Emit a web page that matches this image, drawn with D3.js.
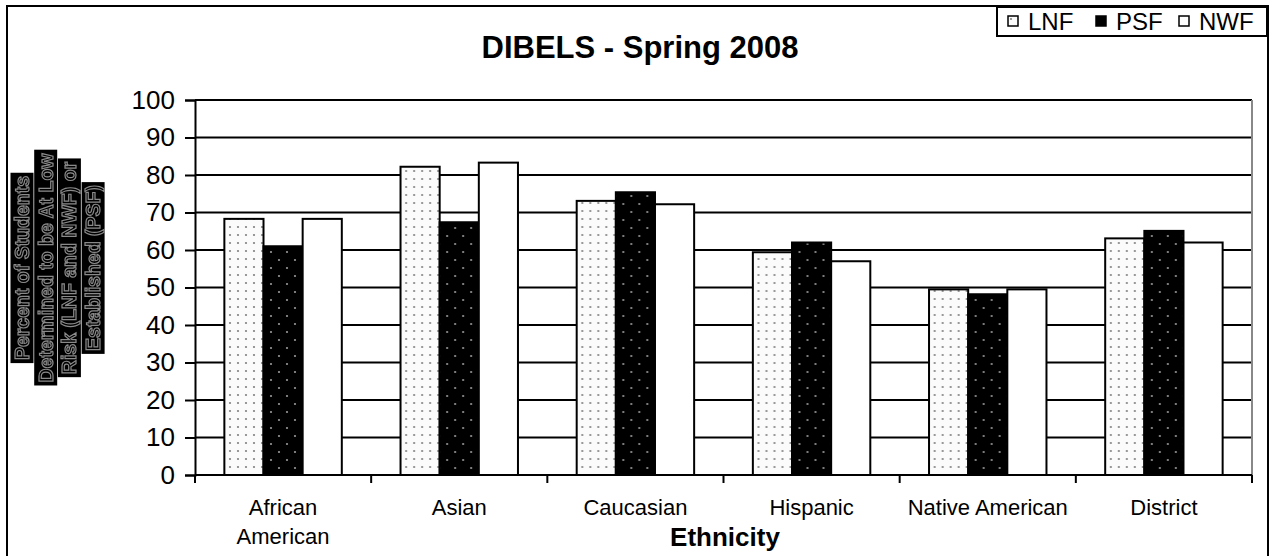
<!DOCTYPE html>
<meta charset="utf-8">
<head>
  <title>DIBELS - Spring 2008</title>
  <script src="https://d3js.org/d3.v7.min.js"></script>
  <style>
    body { margin: 0; background: #fff; }
    text { font-family: "Liberation Sans", Arial, sans-serif; }
  </style>
</head>
<body>
  <div id="chart"></div>
  <script>
    // data
    var categories = ["African American", "Asian", "Caucasian", "Hispanic", "Native American", "District"];
    var series = ["LNF", "PSF", "NWF"];
    var lnf = [68.3, 82.2, 73.1, 59.4, 49.5, 63.1];
    var psf = [61, 67.4, 75.4, 62, 48.2, 65.1];
    var nwf = [68.3, 83.3, 72.2, 57, 49.5, 62];
    var yTicks = [0, 10, 20, 30, 40, 50, 60, 70, 80, 90, 100];
    var yLabelLines = ["Percent of Students", "Determined to be At Low", "Risk (LNF and NWF) or", "Established (PSF)"];

    var values = { LNF: lnf, PSF: psf, NWF: nwf };
    var data = categories.map(function(c, i) {
      return { cat: c, vals: series.map(function(s) { return { key: s, value: values[s][i] }; }) };
    });

    var W = 1272, H = 556;
    var plot = { left: 195, right: 1252, top: 100, bottom: 475 };

    var svg = d3.select("#chart").append("svg")
        .attr("width", W)
        .attr("height", H);

    var defs = svg.append("defs");
    var pL = defs.append("pattern").attr("id", "pat-lnf")
        .attr("patternUnits", "userSpaceOnUse").attr("width", 8).attr("height", 8);
    pL.append("rect").attr("width", 8).attr("height", 8).attr("fill", "#fbfbfb");
    pL.append("circle").attr("cx", 3).attr("cy", 3).attr("r", 1.1).attr("fill", "#808080");

    var pP = defs.append("pattern").attr("id", "pat-psf")
        .attr("patternUnits", "userSpaceOnUse").attr("width", 16).attr("height", 16);
    pP.append("rect").attr("width", 16).attr("height", 16).attr("fill", "#000");
    pP.append("circle").attr("cx", 4).attr("cy", 4).attr("r", 1.1).attr("fill", "#9a9a9a");
    pP.append("circle").attr("cx", 12).attr("cy", 12).attr("r", 1.1).attr("fill", "#9a9a9a");

    var fills = { LNF: "url(#pat-lnf)", PSF: "url(#pat-psf)", NWF: "#fff" };

    var x0 = d3.scaleBand().domain(categories).range([plot.left, plot.right]).padding(0);
    var x1 = d3.scaleBand().domain(series).range([0, x0.bandwidth()])
        .paddingInner(0).paddingOuter(0.75);
    var y = d3.scaleLinear().domain([0, 100]).range([plot.bottom, plot.top]);

    // outer frame
    svg.append("rect")
        .attr("x", 7).attr("y", 6).attr("width", 1261).attr("height", 570)
        .attr("fill", "none").attr("stroke", "#000").attr("stroke-width", 2);

    // gridlines
    svg.append("g").selectAll("line")
      .data(yTicks.filter(function(d) { return d > 0; }))
      .enter().append("line")
        .attr("x1", plot.left).attr("x2", plot.right)
        .attr("y1", function(d) { return y(d); }).attr("y2", function(d) { return y(d); })
        .attr("stroke", "#000").attr("stroke-width", 2);

    // right border of plot area
    svg.append("line")
        .attr("x1", plot.right).attr("x2", plot.right)
        .attr("y1", plot.top).attr("y2", plot.bottom)
        .attr("stroke", "#888").attr("stroke-width", 2);

    // bars
    var groups = svg.append("g").selectAll("g")
      .data(data).enter().append("g")
        .attr("transform", function(d) { return "translate(" + x0(d.cat) + ",0)"; });

    groups.selectAll("rect")
      .data(function(d) { return d.vals; })
      .enter().append("rect")
        .attr("x", function(d) { return x1(d.key); })
        .attr("y", function(d) { return y(d.value); })
        .attr("width", x1.bandwidth())
        .attr("height", function(d) { return y(0) - y(d.value); })
        .attr("fill", function(d) { return fills[d.key]; })
        .attr("stroke", "#000").attr("stroke-width", 2);

    // y axis
    var yAxis = svg.append("g")
        .attr("transform", "translate(" + plot.left + ",0)")
        .call(d3.axisLeft(y).tickValues(yTicks).tickSize(10).tickPadding(10));
    yAxis.select(".domain").attr("stroke", "#000").attr("stroke-width", 2);
    yAxis.selectAll(".tick line").attr("stroke", "#000").attr("stroke-width", 2);
    yAxis.selectAll(".tick text")
        .attr("fill", "#000")
        .style("font-family", "'Liberation Sans', Arial, sans-serif")
        .style("font-size", "26px");

    // x axis
    var xAxis = svg.append("g")
        .attr("transform", "translate(0," + plot.bottom + ")");
    xAxis.append("line")
        .attr("x1", plot.left).attr("x2", plot.right)
        .attr("stroke", "#000").attr("stroke-width", 2);
    xAxis.selectAll(".xtick")
      .data(categories.concat(["end"]))
      .enter().append("line")
        .attr("class", "xtick")
        .attr("x1", function(d) { return d === "end" ? plot.right : x0(d); })
        .attr("x2", function(d) { return d === "end" ? plot.right : x0(d); })
        .attr("y1", 0).attr("y2", 8)
        .attr("stroke", "#000").attr("stroke-width", 2);

    // category labels (wrap "African American")
    xAxis.selectAll(".xlab")
      .data(categories)
      .enter().append("text")
        .attr("class", "xlab")
        .attr("text-anchor", "middle")
        .attr("x", function(d) { return x0(d) + x0.bandwidth() / 2; })
        .attr("y", 40)
        .style("font-size", "22px")
        .each(function(d) {
          var parts = d === "African American" ? ["African", "American"] : [d];
          var t = d3.select(this);
          parts.forEach(function(p, i) {
            t.append("tspan")
              .attr("x", x0(d) + x0.bandwidth() / 2)
              .attr("dy", i === 0 ? 0 : 29)
              .text(p);
          });
        });

    // x axis title
    svg.append("text")
        .attr("x", 725).attr("y", 546)
        .attr("text-anchor", "middle")
        .style("font-size", "26px").style("font-weight", "bold")
        .text("Ethnicity");

    // title
    svg.append("text")
        .attr("x", 640).attr("y", 58)
        .attr("text-anchor", "middle")
        .style("font-size", "31px").style("font-weight", "bold")
        .text("DIBELS - Spring 2008");

    // y axis title: black blocks with outlined grey letters
    var yl = svg.append("g").attr("transform", "translate(0,268)").style("filter", "grayscale(1)");
    yLabelLines.forEach(function(line, i) {
      var cx = 22 + i * 23.7;
      var g = yl.append("g").attr("transform", "translate(" + cx + ",0) rotate(-90)");
      var t = g.append("text")
          .attr("text-anchor", "middle")
          .attr("y", 7)
          .style("font-size", "19.5px").style("font-weight", "bold")
          .attr("fill", "#000").attr("stroke", "#8a8a8a").attr("stroke-width", 1.2)
          .text(line);
      var b = t.node().getBBox();
      g.insert("rect", "text")
          .attr("x", b.x - 3).attr("y", -11.5).attr("width", b.width + 6).attr("height", 23)
          .attr("fill", "#000");
    });

    // legend
    var leg = svg.append("g");
    leg.append("rect")
        .attr("x", 997).attr("y", 7).attr("width", 270).attr("height", 29)
        .attr("fill", "#fff").attr("stroke", "#000").attr("stroke-width", 2);
    var legX = [1008, 1096, 1179];
    series.forEach(function(s, i) {
      leg.append("rect")
          .attr("x", legX[i]).attr("y", 16).attr("width", 10).attr("height", 10)
          .attr("fill", fills[s]).attr("stroke", "#000").attr("stroke-width", 1.5);
      leg.append("text")
          .attr("x", legX[i] + 20).attr("y", 30)
          .style("font-size", "24px")
          .text(s);
    });
  </script>
</body>
